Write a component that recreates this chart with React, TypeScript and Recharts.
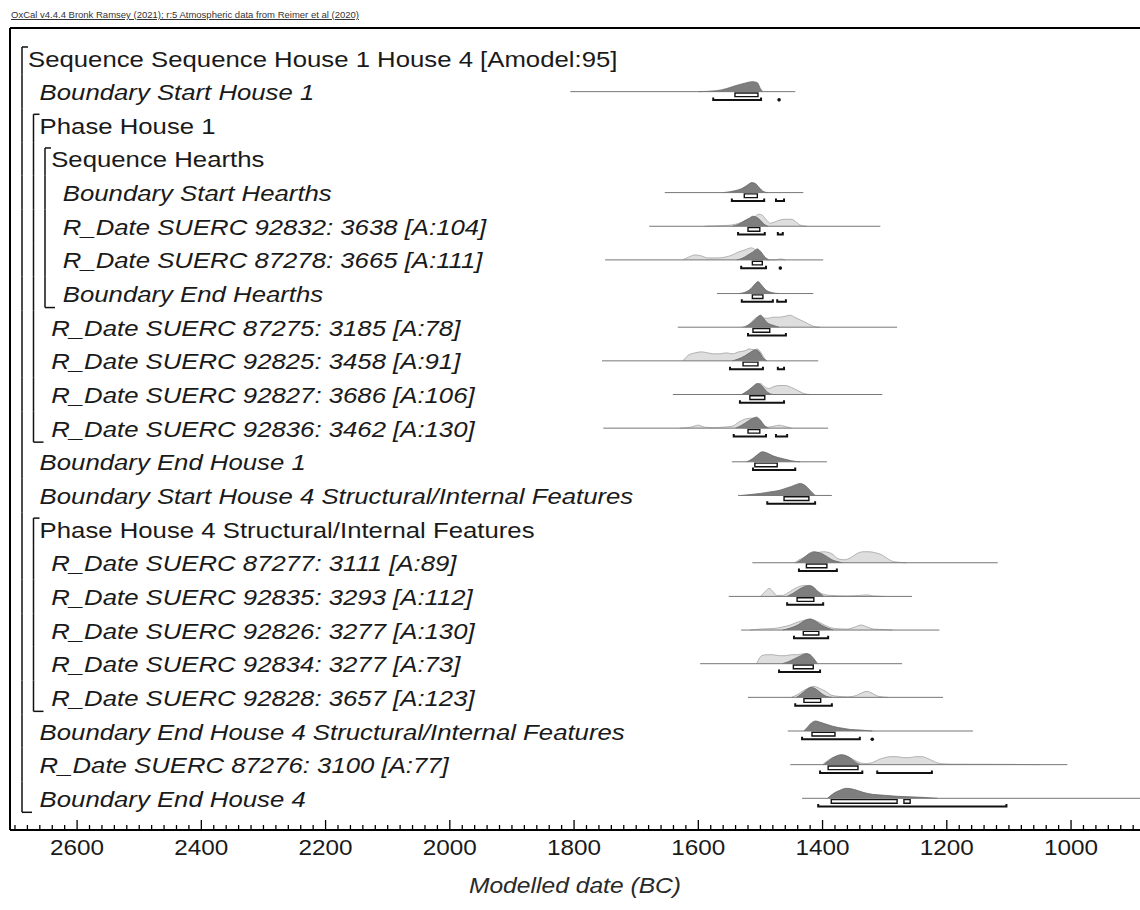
import React from 'react';
import {
  ComposedChart,
  Area,
  XAxis,
  YAxis,
  ReferenceLine,
  ReferenceArea,
  ReferenceDot,
} from 'recharts';

type Pair = [number, number];

// ---- model rows (top to bottom) ----
const rowLabels: string[] = [
  'Sequence Sequence House 1 House 4 [Amodel:95]',
  'Boundary Start House 1',
  'Phase House 1',
  'Sequence Hearths',
  'Boundary Start Hearths',
  'R_Date SUERC 92832: 3638 [A:104]',
  'R_Date SUERC 87278: 3665 [A:111]',
  'Boundary End Hearths',
  'R_Date SUERC 87275: 3185 [A:78]',
  'R_Date SUERC 92825: 3458 [A:91]',
  'R_Date SUERC 92827: 3686 [A:106]',
  'R_Date SUERC 92836: 3462 [A:130]',
  'Boundary End House 1',
  'Boundary Start House 4 Structural/Internal Features',
  'Phase House 4 Structural/Internal Features',
  'R_Date SUERC 87277: 3111 [A:89]',
  'R_Date SUERC 92835: 3293 [A:112]',
  'R_Date SUERC 92826: 3277 [A:130]',
  'R_Date SUERC 92834: 3277 [A:73]',
  'R_Date SUERC 92828: 3657 [A:123]',
  'Boundary End House 4 Structural/Internal Features',
  'R_Date SUERC 87276: 3100 [A:77]',
  'Boundary End House 4',
];

// nesting depth of each row in the model tree
const rowDepth: number[] = [0, 1, 1, 2, 3, 3, 3, 3, 2, 2, 2, 2, 1, 1, 1, 2, 2, 2, 2, 2, 1, 1, 1];

// Sequence / Phase groupings: first row, last row, depth
const groups = [
  { first: 0, last: 22, depth: 0 },
  { first: 2, last: 11, depth: 1 },
  { first: 3, last: 7, depth: 2 },
  { first: 14, last: 19, depth: 1 },
];

// extent of the calibrated range line for each row (years BC)
const spans: (Pair | null)[] = [
  null,
  [1806, 1444],
  null,
  null,
  [1654, 1431],
  [1679, 1307],
  [1750, 1399],
  [1570, 1415],
  [1633, 1280],
  [1755, 1407],
  [1641, 1304],
  [1753, 1391],
  [1546, 1393],
  [1536, 1385],
  null,
  [1513, 1118],
  [1551, 1256],
  [1531, 1212],
  [1597, 1272],
  [1520, 1206],
  [1456, 1158],
  [1452, 1006],
  [1433, 889],
];

// unmodelled likelihoods (year BC, relative probability)
const priors: (Pair[] | null)[] = [
  null, null, null, null, null,
  [[1590, 0], [1570, 0.5], [1550, 1], [1540, 2], [1530, 4], [1520, 7], [1510, 9], [1503, 12], [1497, 11], [1490, 6], [1484, 3], [1478, 4], [1470, 6], [1460, 7], [1450, 7], [1442, 4], [1435, 1], [1425, 0]],
  [[1625, 0], [1615, 3], [1605, 5], [1595, 4], [1585, 2], [1570, 2], [1555, 3], [1545, 5], [1535, 8], [1525, 10], [1515, 12], [1508, 10], [1502, 5], [1496, 1], [1488, 0], [1475, 0], [1468, 1], [1460, 0]],
  null,
  [[1530, 0], [1518, 3], [1510, 8], [1500, 11], [1493, 9], [1487, 9], [1480, 10], [1470, 10], [1460, 11], [1452, 12], [1445, 10], [1435, 7], [1425, 4], [1415, 1], [1405, 0]],
  [[1625, 0], [1615, 6], [1605, 8], [1595, 9], [1585, 8], [1575, 7], [1565, 7], [1555, 8], [1545, 7], [1535, 9], [1525, 10], [1518, 12], [1510, 11], [1505, 12], [1500, 9], [1495, 4], [1490, 0]],
  [[1530, 0], [1520, 2], [1512, 6], [1505, 10], [1500, 11], [1494, 8], [1487, 6], [1478, 8], [1470, 9], [1460, 9], [1450, 7], [1440, 4], [1430, 1], [1420, 0]],
  [[1630, 0], [1612, 1], [1600, 3], [1590, 1], [1575, 0.5], [1560, 1], [1545, 2], [1535, 6], [1525, 9], [1515, 10], [1508, 9], [1500, 7], [1495, 3], [1488, 1], [1478, 2], [1470, 3], [1462, 2], [1450, 0]],
  null, null, null,
  [[1445, 0], [1435, 4], [1420, 8], [1410, 10], [1398, 11], [1385, 9], [1375, 4], [1365, 3], [1355, 5], [1345, 9], [1335, 11], [1325, 11], [1315, 10], [1305, 8], [1295, 4], [1285, 1], [1265, 0]],
  [[1500, 0], [1492, 5], [1486, 8], [1480, 5], [1474, 1], [1465, 1], [1457, 3], [1447, 7], [1437, 10], [1427, 11], [1418, 9], [1408, 5], [1398, 2], [1388, 1], [1360, 0.5], [1340, 1], [1328, 1.5], [1318, 0.5], [1300, 0]],
  [[1517, 0], [1500, 1], [1480, 1.5], [1465, 3], [1452, 5], [1440, 8], [1428, 10], [1420, 11], [1410, 9], [1400, 6], [1390, 3], [1380, 1.5], [1360, 1], [1348, 3], [1338, 5], [1328, 3], [1318, 1], [1300, 0.5], [1287, 0]],
  [[1506, 0], [1498, 8], [1490, 9], [1480, 9], [1470, 8], [1460, 8], [1450, 9], [1440, 9], [1430, 10], [1424, 10], [1418, 6], [1412, 0]],
  [[1450, 0], [1440, 3], [1430, 7], [1420, 10], [1414, 11], [1405, 9], [1395, 6], [1385, 2], [1375, 1], [1360, 0.5], [1345, 2], [1335, 5], [1328, 6], [1320, 4], [1310, 1], [1295, 0]],
  null,
  [[1400, 0], [1392, 4], [1380, 8], [1370, 9], [1360, 8], [1350, 5], [1340, 2], [1330, 1], [1320, 2], [1310, 5], [1300, 7], [1290, 8], [1280, 8], [1270, 7], [1260, 7], [1250, 8], [1240, 8], [1230, 6], [1220, 3], [1210, 1], [1190, 0.5], [1100, 0.3], [1050, 0]],
  null,
];

// modelled posteriors (year BC, relative probability)
const posteriors: (Pair[] | null)[] = [
  null,
  [[1600, 0], [1570, 1], [1555, 3], [1540, 6], [1525, 8.5], [1513, 10], [1505, 9], [1500, 3], [1496, 0]],
  null,
  null,
  [[1560, 0], [1540, 2], [1530, 4], [1522, 7], [1514, 10], [1508, 9], [1502, 5], [1495, 1], [1488, 0]],
  [[1545, 0], [1535, 2], [1527, 5], [1518, 8], [1512, 10], [1506, 9], [1500, 6], [1494, 2], [1488, 0]],
  [[1538, 0], [1528, 2], [1520, 5], [1512, 8], [1505, 11], [1499, 8], [1493, 3], [1486, 0]],
  [[1535, 0], [1522, 2], [1515, 5], [1508, 10], [1504, 12], [1499, 9], [1492, 4], [1482, 1], [1470, 0]],
  [[1525, 0], [1515, 4], [1508, 8], [1500, 12], [1495, 9], [1490, 5], [1480, 2], [1470, 0]],
  [[1545, 0], [1535, 2], [1525, 5], [1515, 9], [1508, 11], [1502, 9], [1496, 3], [1490, 0]],
  [[1530, 0], [1520, 4], [1512, 8], [1505, 11], [1500, 10], [1494, 6], [1488, 2], [1480, 0]],
  [[1540, 0], [1530, 3], [1520, 7], [1512, 10], [1506, 11], [1500, 8], [1494, 3], [1487, 0]],
  [[1522, 0], [1513, 3], [1505, 7], [1497, 10], [1490, 9], [1480, 6], [1470, 4], [1460, 2.5], [1450, 1], [1436, 0]],
  [[1530, 0], [1515, 1], [1500, 2], [1485, 3.5], [1470, 5], [1460, 7], [1450, 9], [1442, 11], [1436, 12], [1428, 10], [1420, 5], [1412, 0]],
  null,
  [[1442, 0], [1432, 4], [1422, 9], [1414, 11], [1405, 10], [1395, 7], [1385, 3], [1375, 1], [1368, 0]],
  [[1457, 0], [1448, 3], [1438, 7], [1428, 10], [1421, 11], [1414, 9], [1406, 4], [1398, 0]],
  [[1464, 0], [1452, 2], [1440, 5], [1430, 9], [1420, 11], [1412, 9], [1402, 5], [1392, 2], [1383, 0]],
  [[1465, 0], [1455, 2], [1445, 5], [1435, 8], [1426, 10], [1420, 9], [1414, 5], [1408, 0]],
  [[1442, 0], [1435, 3], [1427, 7], [1418, 10], [1410, 8], [1402, 4], [1394, 1], [1385, 0]],
  [[1430, 0], [1424, 4], [1418, 8], [1411, 10], [1405, 9], [1395, 7], [1385, 5], [1375, 3.5], [1365, 2.5], [1355, 1.5], [1340, 1], [1320, 0]],
  [[1398, 0], [1390, 4], [1380, 8], [1370, 10], [1362, 9], [1354, 6], [1346, 2], [1338, 0]],
  [[1392, 0], [1382, 5], [1372, 8], [1362, 10], [1350, 9], [1335, 6], [1320, 4], [1300, 3], [1280, 2], [1260, 1.5], [1240, 1], [1215, 0]],
];

// 68.3% highest posterior density ranges
const range68: Pair[][] = [
  [], [[1541, 1504]], [], [],
  [[1526, 1505]],
  [[1520, 1501]],
  [[1513, 1497]],
  [[1513, 1496]],
  [[1512, 1485]],
  [[1528, 1504]],
  [[1517, 1493]],
  [[1520, 1501]],
  [[1509, 1473]],
  [[1462, 1422]],
  [],
  [[1426, 1393]],
  [[1441, 1414]],
  [[1431, 1406]],
  [[1447, 1415]],
  [[1430, 1403]],
  [[1417, 1380]],
  [[1391, 1343]],
  [[1386, 1280], [1269, 1259]],
];

// 95.4% highest posterior density ranges
const range95: Pair[][] = [
  [], [[1576, 1499], [1470, 1470]], [], [],
  [[1546, 1494], [1475, 1462]],
  [[1536, 1493], [1472, 1464]],
  [[1531, 1491], [1468, 1468]],
  [[1530, 1480], [1473, 1459]],
  [[1520, 1459]],
  [[1549, 1496], [1472, 1462]],
  [[1533, 1462]],
  [[1543, 1491], [1475, 1457]],
  [[1512, 1444]],
  [[1489, 1412]],
  [],
  [[1438, 1377]],
  [[1457, 1399]],
  [[1446, 1391]],
  [[1470, 1404]],
  [[1444, 1385]],
  [[1433, 1340], [1320, 1320]],
  [[1404, 1336], [1312, 1224]],
  [[1407, 1104]],
];

const yearDomain: Pair = [889, 2708];
const dateTicks: number[] = [];
for (let t = 2700; t >= 900; t -= 20) dateTicks.push(t);

const headerText = 'OxCal v4.4.4 Bronk Ramsey (2021); r:5 Atmospheric data from Reimer et al (2020)';
const axisTitle = 'Modelled date (BC)';

// ---- layout ----
const WIDTH = 1140;
const HEIGHT = 910;
const FRAME_LEFT = 10;
const PLOT_TOP = 28;
const PLOT_BOTTOM = 830;
const FIRST_ROW_Y = 58;
const ROW_STEP = 33.65;
const yDomain: Pair = [
  (PLOT_TOP - FIRST_ROW_Y) / ROW_STEP,
  (PLOT_BOTTOM - FIRST_ROW_Y) / ROW_STEP,
];
const px = (n: number) => n / ROW_STEP; // pixels -> row units
const FONT = "'Liberation Sans', Arial, Helvetica, sans-serif";
const TICK_STRETCH = 1.13;
const LABEL_STRETCH = 1.17;

const toArea = (curve: Pair[], row: number) =>
  curve.map(([year, p]) => ({ year, v: row - px(p) }));

const isItalic = (s: string) => s.startsWith('Boundary') || s.startsWith('R_Date');

const DateTick = (props: any) => {
  const { x, y, payload } = props;
  const v = payload.value as number;
  const major = v % 200 === 0;
  return (
    <g>
      <line x1={x} x2={x} y1={y} y2={y - (major ? 10 : 5)} stroke="#000" strokeWidth={1.3} />
      {major && (
        <text
          transform={`translate(${x} ${y + 25}) scale(${TICK_STRETCH} 1)`}
          textAnchor="middle"
          fontFamily={FONT}
          fontSize={21.5}
          fill="#1a1a1a"
        >
          {v}
        </text>
      )}
    </g>
  );
};

const RowTick = (props: any) => {
  const { y, payload } = props;
  const i = payload.value as number;
  const label = rowLabels[i];
  const lx = 28 + rowDepth[i] * 11.6;
  return (
    <g>
      {groups
        .filter((g) => i >= g.first && i <= g.last)
        .map((g, k) => {
          const gx = 22 + g.depth * 11.5;
          const top = i === g.first ? y - 11 : y - ROW_STEP / 2;
          const bottom = i === g.last ? y + 14 : y + ROW_STEP / 2;
          return (
            <g key={k}>
              <line x1={gx} x2={gx} y1={top} y2={bottom} stroke="#111" strokeWidth={1.5} />
              {i === g.first && <line x1={gx} x2={gx + 6} y1={top} y2={top} stroke="#111" strokeWidth={1.5} />}
              {i === g.last && <line x1={gx} x2={gx + 10} y1={bottom} y2={bottom} stroke="#111" strokeWidth={1.5} />}
            </g>
          );
        })}
      <text
        transform={`translate(${lx} ${y + 8.5}) scale(${LABEL_STRETCH} 1)`}
        fontFamily={FONT}
        fontSize={22}
        fontStyle={isItalic(label) ? 'italic' : 'normal'}
        fill="#1a1a1a"
      >
        {label}
      </text>
    </g>
  );
};

const AxisTitle = (props: any) => {
  const vb = props.viewBox || { x: FRAME_LEFT, y: PLOT_BOTTOM, width: WIDTH - FRAME_LEFT, height: 80 };
  return (
    <text
      transform={`translate(${vb.x + vb.width / 2} ${vb.y + 63}) scale(1.12 1)`}
      textAnchor="middle"
      fontFamily={FONT}
      fontSize={22}
      fontStyle="italic"
      fill="#2a2a2a"
    >
      {axisTitle}
    </text>
  );
};

const Bracket = (props: any) => {
  const { x, y, width, height } = props;
  return (
    <path
      d={`M${x},${y} V${y + height} H${x + width} V${y}`}
      fill="none"
      stroke="#111"
      strokeWidth={2}
    />
  );
};

export default function App() {
  const rowTicks = rowLabels.map((_, i) => i);
  return (
    <div style={{ position: 'absolute', left: 0, top: 0, width: WIDTH, height: HEIGHT, background: '#fff' }}>
      <div
        style={{
          position: 'absolute',
          left: 11,
          top: 9,
          fontFamily: FONT,
          fontSize: 9.5,
          lineHeight: '12px',
          color: '#333',
          textDecoration: 'underline',
          whiteSpace: 'nowrap',
        }}
      >
        {headerText}
      </div>
      <ComposedChart
        width={WIDTH}
        height={HEIGHT}
        margin={{ top: PLOT_TOP, right: 0, bottom: 0, left: 0 }}
      >
        <XAxis
          type="number"
          dataKey="year"
          domain={yearDomain}
          reversed
          allowDataOverflow
          ticks={dateTicks}
          interval={0}
          tick={<DateTick />}
          tickLine={false}
          tickSize={0}
          tickMargin={0}
          height={HEIGHT - PLOT_BOTTOM}
          axisLine={{ stroke: '#000', strokeWidth: 2 }}
          label={{ content: (p: any) => <AxisTitle viewBox={p.viewBox} /> }}
        />
        <YAxis
          type="number"
          domain={yDomain}
          reversed
          allowDataOverflow
          ticks={rowTicks}
          interval={0}
          tick={<RowTick />}
          tickLine={false}
          tickSize={0}
          tickMargin={0}
          width={FRAME_LEFT}
          axisLine={{ stroke: '#000', strokeWidth: 2 }}
        />
        <ReferenceLine y={yDomain[0]} stroke="#000" strokeWidth={2} ifOverflow="visible" />

        {spans.map((s, i) =>
          s ? (
            <ReferenceLine
              key={`span-${i}`}
              segment={[{ x: s[0], y: i }, { x: s[1], y: i }]}
              stroke="#777"
              strokeWidth={1}
              ifOverflow="visible"
            />
          ) : null
        )}

        {priors.map((c, i) =>
          c ? (
            <Area
              key={`prior-${i}`}
              data={toArea(c, i)}
              dataKey="v"
              baseValue={i}
              type="monotone"
              fill="#dedede"
              fillOpacity={1}
              stroke="#a2a2a2"
              strokeWidth={0.8}
              dot={false}
              activeDot={false}
              isAnimationActive={false}
            />
          ) : null
        )}

        {posteriors.map((c, i) =>
          c ? (
            <Area
              key={`post-${i}`}
              data={toArea(c, i)}
              dataKey="v"
              baseValue={i}
              type="monotone"
              fill="#7e7e7e"
              fillOpacity={1}
              stroke="#666"
              strokeWidth={0.8}
              dot={false}
              activeDot={false}
              isAnimationActive={false}
            />
          ) : null
        )}

        {range68.map((list, i) =>
          list.map((r, k) => (
            <ReferenceArea
              key={`r68-${i}-${k}`}
              x1={r[0]}
              x2={r[1]}
              y1={i + px(1.3)}
              y2={i + px(5)}
              fill="#fff"
              fillOpacity={1}
              stroke="#111"
              strokeWidth={1.4}
              ifOverflow="visible"
            />
          ))
        )}

        {range95.map((list, i) =>
          list.map((r, k) =>
            r[0] === r[1] ? (
              <ReferenceDot
                key={`r95-${i}-${k}`}
                x={r[0]}
                y={i + px(8.2)}
                r={1.8}
                fill="#111"
                stroke="none"
                ifOverflow="visible"
              />
            ) : (
              <ReferenceArea
                key={`r95-${i}-${k}`}
                x1={r[0]}
                x2={r[1]}
                y1={i + px(5.8)}
                y2={i + px(8.3)}
                shape={<Bracket />}
                ifOverflow="visible"
              />
            )
          )
        )}
      </ComposedChart>
    </div>
  );
}
